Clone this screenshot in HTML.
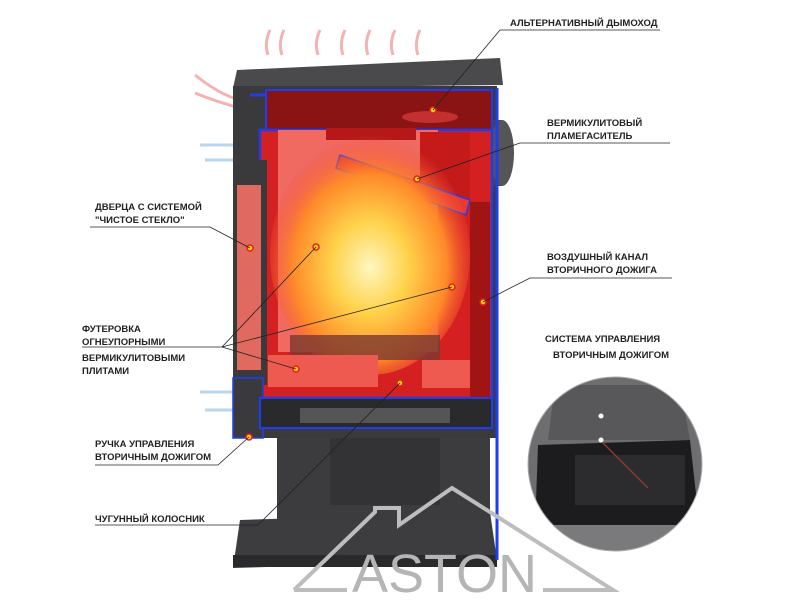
<!DOCTYPE html>
<html><head><meta charset="utf-8"><style>
body{margin:0;background:#fff;width:800px;height:600px;overflow:hidden}
text{font-family:"Liberation Sans",sans-serif;font-weight:bold;font-size:9.5px;fill:#222}
</style></head><body>
<svg width="800" height="600" viewBox="0 0 800 600" xmlns="http://www.w3.org/2000/svg">
<defs>
<radialGradient id="fire" cx="0.5" cy="0.55" r="0.55">
<stop offset="0" stop-color="#fff6c0"/><stop offset="0.35" stop-color="#ffd24a"/><stop offset="0.7" stop-color="#ff8a2a"/><stop offset="1" stop-color="#f2483a" stop-opacity="0"/>
</radialGradient>
<clipPath id="cc"><circle cx="615" cy="464" r="87"/></clipPath>
</defs>
<g stroke="#f3a0a0" stroke-width="3" fill="none" opacity="0.8">
<path d="M268 55 q-4 -12 2 -25"/><path d="M282 55 q-4 -12 2 -25"/><path d="M318 55 q-4 -12 2 -25"/><path d="M343 55 q-4 -12 2 -25"/><path d="M368 55 q-4 -12 2 -25"/><path d="M393 55 q-4 -12 2 -25"/><path d="M418 55 q-4 -12 2 -25"/>
<path d="M240 100 q-20 -5 -45 -25"/><path d="M240 108 q-20 -5 -45 -15"/>
</g>
<g stroke="#a8cde8" stroke-width="3" fill="none" opacity="0.8">
<path d="M200 145 h40"/><path d="M205 160 h35"/><path d="M200 392 h35"/><path d="M205 410 h30"/>
</g>
<path d="M240 520 L490 512 L497 560 L233 568 Z" fill="#3d3d40"/>
<rect x="233" y="555" width="264" height="12" fill="#2a2a2c"/>
<rect x="277" y="427" width="213" height="95" fill="#3c3c3f"/>
<rect x="330" y="435" width="110" height="70" fill="#333336"/>
<path d="M237 70 L500 58 L503 85 L233 88 Z" fill="#4a4a4d"/>
<rect x="233" y="86" width="264" height="352" fill="#3a3a3d"/>
<rect x="480" y="120" width="22" height="66" fill="#444447"/>
<ellipse cx="502" cy="153" rx="12" ry="33" fill="#555558"/>
<rect x="266" y="90" width="226" height="42" fill="#8a1414" stroke="#1e3cf0" stroke-width="2"/>
<ellipse cx="430" cy="117" rx="28" ry="6" fill="#c23030"/>
<rect x="260" y="130" width="232" height="268" fill="#d42020" stroke="#1e3cf0" stroke-width="2.5"/>
<rect x="278" y="130" width="160" height="222" fill="#f06a62"/>
<rect x="420" y="132" width="50" height="70" fill="#c41a1a"/>
<path d="M340 155 L470 200 L466 215 L336 168 Z" fill="#e83a34" stroke="#1e3cf0" stroke-width="1.5"/>
<rect x="326" y="128" width="90" height="12" fill="#b51818"/>
<ellipse cx="370" cy="255" rx="100" ry="120" fill="url(#fire)"/>
<rect x="290" y="335" width="150" height="25" fill="#7a3a30" opacity="0.8"/>
<rect x="268" y="355" width="110" height="32" fill="#ee5a50"/>
<rect x="422" y="360" width="55" height="28" fill="#ee5a50"/>
<rect x="470" y="202" width="20" height="196" fill="#a01414"/>
<rect x="233" y="160" width="34" height="225" fill="#3a3a3d"/>
<rect x="237" y="185" width="24" height="185" fill="#e06a60"/>
<rect x="233" y="378" width="30" height="60" fill="#3a3a3d" stroke="#1e3cf0" stroke-width="1.5"/>
<rect x="260" y="398" width="232" height="30" fill="#2a2a2c" stroke="#1e3cf0" stroke-width="2"/>
<rect x="300" y="408" width="150" height="15" fill="#555"/>
<line x1="497" y1="88" x2="497" y2="560" stroke="#1e3cf0" stroke-width="3"/>
<path d="M250 95 L266 95" stroke="#1e3cf0" stroke-width="3"/>
<g fill="#ffd000" stroke="#e02020" stroke-width="1.5">
<circle cx="433" cy="110" r="3"/><circle cx="417" cy="179" r="3"/><circle cx="250" cy="248" r="3"/><circle cx="316" cy="247" r="3"/><circle cx="452" cy="287" r="3"/><circle cx="483" cy="302" r="3"/><circle cx="296" cy="369" r="3"/><circle cx="400" cy="383" r="3"/><circle cx="249" cy="437" r="3"/>
</g>
<g stroke="#222" stroke-width="0.8" fill="none">
<path d="M433 110 L500 30 L660 30"/>
<path d="M417 179 L520 143 L670 143"/>
<path d="M250 248 L210 227 L90 227"/>
<path d="M483 302 L530 278 L672 278"/>
<path d="M316 247 L222 347 L82 347"/><path d="M452 287 L222 347"/><path d="M296 369 L222 347"/>
<path d="M249 437 L218 465 L95 465"/>
<path d="M400 383 L258 525 L95 525"/>
</g>
<!-- inset -->
<g clip-path="url(#cc)">
<rect x="520" y="370" width="190" height="190" fill="#6e6e70"/>
<path d="M555 385 L680 385 L690 440 L548 440 Z" fill="#58585a"/>
<path d="M538 445 L690 440 L700 530 L535 530 Z" fill="#1c1c1e"/>
<rect x="575" y="455" width="110" height="50" fill="#2c2c2e"/>
<line x1="600" y1="440" x2="648" y2="488" stroke="#8a3a30" stroke-width="1.5"/>
<rect x="530" y="525" width="180" height="35" fill="#7a7a7c"/>
</g>
<circle cx="615" cy="464" r="87" fill="none" stroke="#aaa" stroke-width="1"/>
<circle cx="601" cy="416" r="2.5" fill="#fff"/><circle cx="601" cy="440" r="2.5" fill="#fff"/>
<text x="510" y="26">АЛЬТЕРНАТИВНЫЙ ДЫМОХОД</text>
<text x="547" y="126">ВЕРМИКУЛИТОВЫЙ</text><text x="547" y="139">ПЛАМЕГАСИТЕЛЬ</text>
<text x="95" y="210">ДВЕРЦА С СИСТЕМОЙ</text><text x="95" y="223">"ЧИСТОЕ СТЕКЛО"</text>
<text x="547" y="260">ВОЗДУШНЫЙ КАНАЛ</text><text x="547" y="273">ВТОРИЧНОГО ДОЖИГА</text>
<text x="545" y="342">СИСТЕМА УПРАВЛЕНИЯ</text><text x="553" y="358">ВТОРИЧНЫМ ДОЖИГОМ</text>
<text x="82" y="332">ФУТЕРОВКА</text><text x="82" y="345">ОГНЕУПОРНЫМИ</text><text x="82" y="361">ВЕРМИКУЛИТОВЫМИ</text><text x="82" y="374">ПЛИТАМИ</text>
<text x="95" y="447">РУЧКА УПРАВЛЕНИЯ</text><text x="95" y="460">ВТОРИЧНЫМ ДОЖИГОМ</text>
<text x="95" y="522">ЧУГУННЫЙ КОЛОСНИК</text>
<!-- logo -->
<g fill="none" stroke="#bdbdbd" stroke-width="4">
<path d="M294 590 L375 512 L375 508 L399 508 L399 525 L452 488 L613 590 L543 590"/>
<path d="M294 590 L347 590"/>
</g>
<text x="352" y="592" style="font-size:54px;font-weight:normal;fill:#b5b5b5">ASTON</text>
</svg>
</body></html>
